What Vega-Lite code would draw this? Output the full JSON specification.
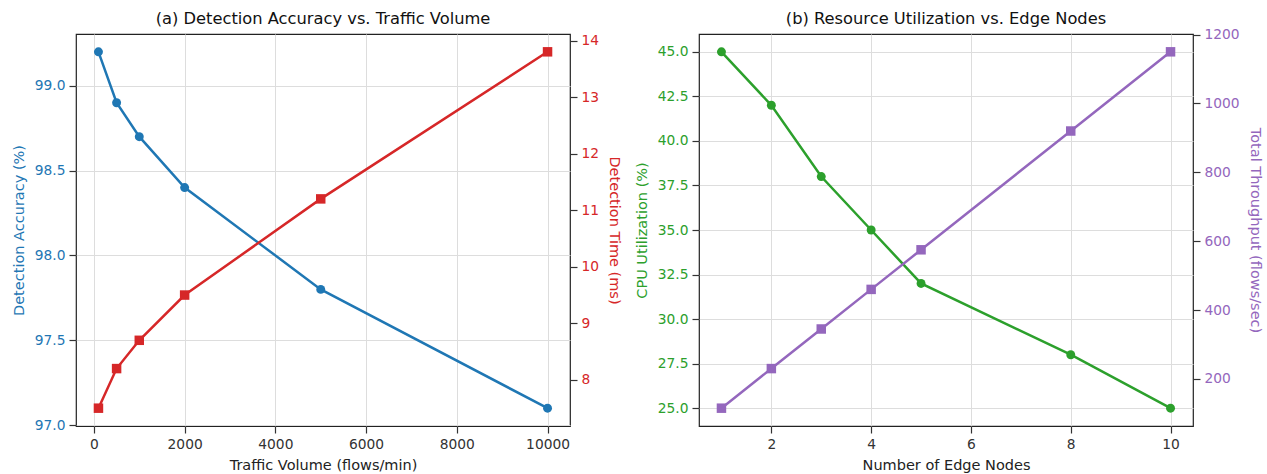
{
  "$schema": "https://vega.github.io/schema/vega-lite/v6.json",
  "background": "white",
  "padding": {"left": 10, "top": 10, "right": 5, "bottom": 5},
  "bounds": "flush",
  "spacing": 129,
  "config": {
    "font": "DejaVu Sans",
    "view": {"stroke": "#222222", "strokeWidth": 1.2},
    "axis": {
      "domain": false,
      "labelFont": "DejaVu Sans",
      "titleFont": "DejaVu Sans",
      "labelFontSize": 13.8,
      "titleFontSize": 14.5,
      "titleFontWeight": "normal",
      "tickColor": "#333333",
      "tickSize": 7,
      "tickWidth": 1.2,
      "labelPadding": 4,
      "titlePadding": 8,
      "gridColor": "#dddddd",
      "gridWidth": 1,
      "labelColor": "#333333",
      "titleColor": "#222222"
    },
    "title": {"font": "DejaVu Sans", "fontSize": 16.3, "fontWeight": "normal", "color": "#111111", "offset": 6}
  },
  "datasets": {
    "traffic": [
      {"traffic": 100, "accuracy": 99.2, "time": 7.5},
      {"traffic": 500, "accuracy": 98.9, "time": 8.2},
      {"traffic": 1000, "accuracy": 98.7, "time": 8.7},
      {"traffic": 2000, "accuracy": 98.4, "time": 9.5},
      {"traffic": 5000, "accuracy": 97.8, "time": 11.2},
      {"traffic": 10000, "accuracy": 97.1, "time": 13.8}
    ],
    "nodes": [
      {"nodes": 1, "cpu": 45.0, "throughput": 115},
      {"nodes": 2, "cpu": 42.0, "throughput": 230},
      {"nodes": 3, "cpu": 38.0, "throughput": 345},
      {"nodes": 4, "cpu": 35.0, "throughput": 460},
      {"nodes": 5, "cpu": 32.0, "throughput": 575},
      {"nodes": 8, "cpu": 28.0, "throughput": 920},
      {"nodes": 10, "cpu": 25.0, "throughput": 1150}
    ]
  },
  "hconcat": [
    {
      "title": {"text": "(a) Detection Accuracy vs. Traffic Volume"},
      "width": 494,
      "height": 392,
      "data": {"name": "traffic"},
      "layer": [
        {
          "mark": {"type": "line", "color": "#1f77b4", "strokeWidth": 2.5, "point": {"filled": true, "shape": "circle", "size": 80, "color": "#1f77b4", "opacity": 1}},
          "encoding": {
            "x": {"field": "traffic", "type": "quantitative", "title": "Traffic Volume (flows/min)",
                  "scale": {"domain": [-395, 10495], "nice": false, "zero": false},
                  "axis": {"values": [0, 2000, 4000, 6000, 8000, 10000], "format": "d", "grid": true}},
            "y": {"field": "accuracy", "type": "quantitative", "title": "Detection Accuracy (%)",
                  "scale": {"domain": [96.995, 99.305], "nice": false, "zero": false},
                  "axis": {"values": [97.0, 97.5, 98.0, 98.5, 99.0], "format": ".1f", "grid": true, "labelColor": "#1f77b4", "titleColor": "#1f77b4"}}
          }
        },
        {
          "mark": {"type": "line", "color": "#d62728", "strokeWidth": 2.5, "point": {"filled": true, "shape": "square", "size": 90, "color": "#d62728", "opacity": 1}},
          "encoding": {
            "x": {"field": "traffic", "type": "quantitative"},
            "y": {"field": "time", "type": "quantitative", "title": "Detection Time (ms)",
                  "scale": {"domain": [7.185, 14.115], "nice": false, "zero": false},
                  "axis": {"orient": "right", "values": [8, 9, 10, 11, 12, 13, 14], "format": "d", "grid": false, "labelColor": "#d62728", "titleColor": "#d62728"}}
          }
        }
      ],
      "resolve": {"scale": {"y": "independent"}}
    },
    {
      "title": {"text": "(b) Resource Utilization vs. Edge Nodes", "dy": 6},
      "width": 494,
      "height": 392,
      "data": {"name": "nodes"},
      "layer": [
        {
          "mark": {"type": "line", "color": "#2ca02c", "strokeWidth": 2.5, "point": {"filled": true, "shape": "circle", "size": 80, "color": "#2ca02c", "opacity": 1}},
          "encoding": {
            "x": {"field": "nodes", "type": "quantitative", "title": "Number of Edge Nodes",
                  "scale": {"domain": [0.55, 10.45], "nice": false, "zero": false},
                  "axis": {"values": [2, 4, 6, 8, 10], "format": "d", "grid": true}},
            "y": {"field": "cpu", "type": "quantitative", "title": "CPU Utilization (%)",
                  "scale": {"domain": [24, 46], "nice": false, "zero": false},
                  "axis": {"values": [25.0, 27.5, 30.0, 32.5, 35.0, 37.5, 40.0, 42.5, 45.0], "format": ".1f", "grid": true, "labelColor": "#2ca02c", "titleColor": "#2ca02c"}}
          }
        },
        {
          "mark": {"type": "line", "color": "#9467bd", "strokeWidth": 2.5, "point": {"filled": true, "shape": "square", "size": 90, "color": "#9467bd", "opacity": 1}},
          "encoding": {
            "x": {"field": "nodes", "type": "quantitative"},
            "y": {"field": "throughput", "type": "quantitative", "title": "Total Throughput (flows/sec)",
                  "scale": {"domain": [63.25, 1201.75], "nice": false, "zero": false},
                  "axis": {"orient": "right", "values": [200, 400, 600, 800, 1000, 1200], "format": "d", "grid": false, "labelColor": "#9467bd", "titleColor": "#9467bd"}}
          }
        }
      ],
      "resolve": {"scale": {"y": "independent"}}
    }
  ]
}
